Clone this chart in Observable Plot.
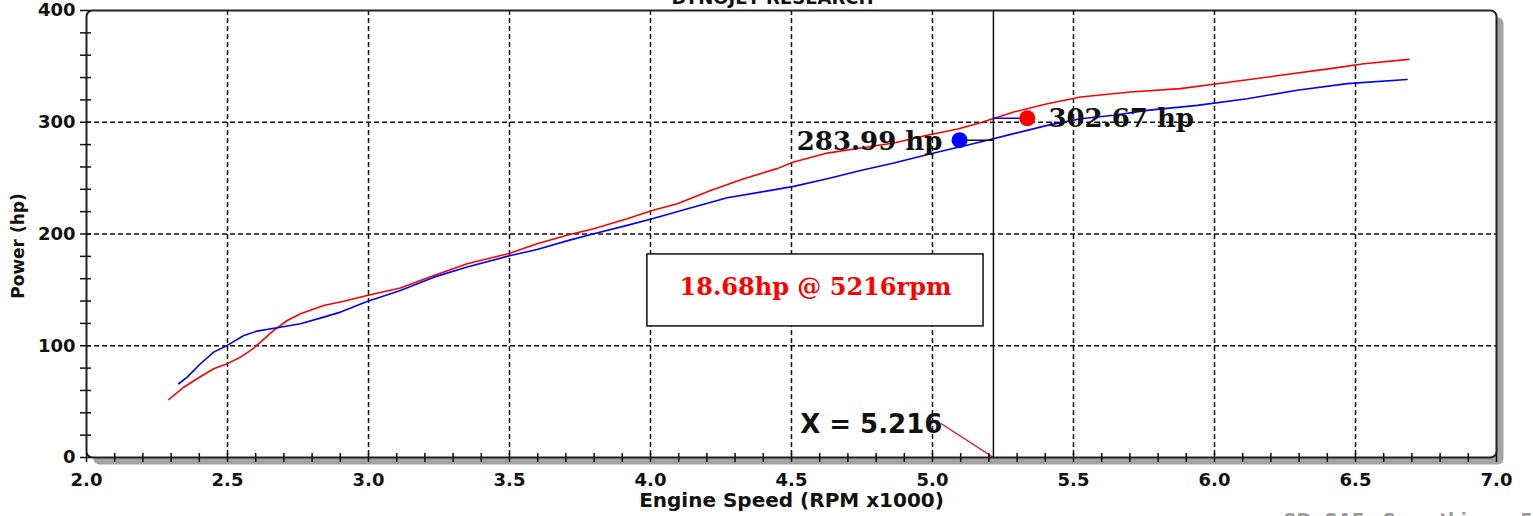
<!DOCTYPE html>
<html><head><meta charset="utf-8">
<script src="https://cdn.jsdelivr.net/npm/d3@7"></script>
<script src="https://cdn.jsdelivr.net/npm/@observablehq/plot@0.6"></script>
<style>html,body{margin:0;padding:0;background:#fff;overflow:hidden}</style>
</head><body><div id="chart"></div>
<script>
// Run 1 (red)
const rpmRed = [2.292,2.345,2.392,2.451,2.499,2.546,2.582,2.617,2.664,2.712,2.759,2.841,2.912,2.995,3.113,3.232,3.350,3.504,3.598,3.710,3.799,3.917,4.006,4.095,4.213,4.331,4.449,4.508,4.627,4.745,4.863,4.981,5.090,5.170,5.288,5.407,5.525,5.702,5.879,6.057,6.234,6.411,6.530,6.689];
const hpRed  = [51.9,62.9,70.5,79.4,83.9,89.8,95.8,103.2,113.7,122.6,128.6,136.1,139.9,145.0,151.6,162.9,173.4,182.9,191.3,199.4,204.7,213.7,221.1,227.1,239.0,249.5,258.5,264.4,272.4,276.9,281.4,288.3,294.0,299.5,309.1,316.6,322.6,327.1,330.1,336.0,342.0,348.0,352.4,356.3];
// Run 2 (blue)
const rpmBlue = [2.327,2.357,2.404,2.451,2.499,2.558,2.605,2.676,2.759,2.841,2.901,2.995,3.113,3.232,3.350,3.504,3.598,3.710,3.799,3.917,4.006,4.154,4.272,4.390,4.508,4.627,4.745,4.863,5.005,5.170,5.288,5.407,5.525,5.643,5.761,5.939,6.116,6.293,6.471,6.683];
const hpBlue  = [66.0,71.9,83.9,94.3,100.3,109.2,113.1,116.1,119.7,125.6,130.1,139.7,149.5,161.4,170.4,180.8,186.2,194.3,200.3,207.7,213.7,224.1,232.5,237.5,242.6,249.5,256.9,263.5,272.4,282.3,289.8,297.2,303.2,306.2,310.6,315.1,321.1,328.6,334.6,338.2];

// axis ticks
const xMajor = [2.0,2.5,3.0,3.5,4.0,4.5,5.0,5.5,6.0,6.5,7.0];
const xGrid  = [2.5,3.0,3.5,4.0,4.5,5.0,5.5,6.0,6.5];
const yMajor = [0,100,200,300,400];
const yGrid  = [100,200,300];
const xMinor = d3.range(20, 71).map(d => d / 10);
const yMinor = d3.range(0, 401, 20);

// cursor & markers
const cursorRpm = [5.216];
const markerNames = ["blue", "red"];
const markerRpm = [5.096, 5.336];
const markerHp  = [283.99, 303.6];
const markerLabels = ["283.99 hp", "302.67 hp"];
const diffLabel = ["18.68hp @ 5216rpm"];
const cursorLabel = ["X = 5.216"];
const titleText = ["DYNOJET RESEARCH"];
const footerText = ["SD: SAE   Smoothing = 5"];

const red = rpmRed.map((x, i) => ({x, y: hpRed[i]}));
const blue = rpmBlue.map((x, i) => ({x, y: hpBlue[i]}));
const markers = markerNames.map((c, i) => ({c, x: markerRpm[i], y: markerHp[i]}));

const ink = "#111";
const chart = Plot.plot({
  width: 1533, height: 516,
  marginLeft: 86, marginRight: 37, marginTop: 10, marginBottom: 59,
  x: {domain: [2, 7]},
  y: {domain: [0, 400]},
  style: {fontFamily: "DejaVu Sans", background: "white", overflow: "visible"},
  marks: [
    Plot.frame({fill: "#a3a3a3", stroke: null, rx: 6, dx: 7, dy: 7}),
    Plot.frame({fill: "white", stroke: null, rx: 6}),
    Plot.gridX(xGrid, {stroke: ink, strokeOpacity: 1, strokeDasharray: "5,3", strokeWidth: 1.5}),
    Plot.gridY(yGrid, {stroke: ink, strokeOpacity: 1, strokeDasharray: "5,3", strokeWidth: 1.5}),
    // diff box
    Plot.rect([0], {x1: 3.989, x2: 5.181, y1: 117.3, y2: 181.7, fill: "white", stroke: ink, strokeWidth: 1.5}),
    Plot.text(diffLabel, {x: 4.585, y: 152, text: d => d, fill: "#ff0000", fontFamily: "DejaVu Serif", fontWeight: "bold", fontSize: 24, lineAnchor: "middle", textAnchor: "middle"}),
    // curves
    Plot.line(red, {x: "x", y: "y", stroke: "#ff0000", strokeWidth: 1.6}),
    Plot.line(blue, {x: "x", y: "y", stroke: "#0000ff", strokeWidth: 1.6}),
    // cursor
    Plot.ruleX(cursorRpm, {x: d => d, y1: 0, y2: 400, stroke: ink, strokeWidth: 1.5}),
    Plot.link([0], {x1: 5.030, y1: 30.4, x2: cursorRpm[0], y2: 0, stroke: "#ff0000", strokeWidth: 1.2}),
    Plot.text(cursorLabel, {x: 5.035, y: 21.5, text: d => d, fill: ink, fontWeight: "bold", fontSize: 26, textAnchor: "end", lineAnchor: "bottom"}),
    // marker connectors
    Plot.ruleY([markerHp[0]], {y: d => d, x1: markerRpm[0], x2: cursorRpm[0], stroke: ink, strokeWidth: 1.5}),
    Plot.ruleY([markerHp[1]], {y: d => d, x1: cursorRpm[0], x2: markerRpm[1], stroke: "#0000ff", strokeWidth: 1.5}),
    Plot.dot(markers, {x: "x", y: "y", r: 8, fill: d => d.c === "red" ? "#ff0000" : "#0000ff", stroke: null}),
    Plot.text([markerLabels[0]], {x: 5.035, y: 274.8, text: d => d, fill: ink, fontFamily: "DejaVu Serif", fontWeight: "bold", fontSize: 26, textAnchor: "end", lineAnchor: "bottom"}),
    Plot.text([markerLabels[1]], {x: 5.411, y: 295.4, text: d => d, fill: ink, fontFamily: "DejaVu Serif", fontWeight: "bold", fontSize: 26, textAnchor: "start", lineAnchor: "bottom"}),
    // frame outline
    Plot.frame({stroke: "#222", strokeWidth: 2, rx: 6}),
    // minor ticks
    Plot.ruleX(xMinor, {x: d => d, y1: 0, y2: 0, insetTop: -4, insetBottom: -5, stroke: ink, strokeWidth: 1.5}),
    Plot.ruleY(yMinor, {y: d => d, x1: 2, x2: 2, insetLeft: -6, insetRight: -5, stroke: ink, strokeWidth: 1.5}),
    // axis labels
    Plot.axisX(xMajor, {tickSize: 0, tickPadding: 16, fontSize: 18, fontWeight: "bold", label: null, tickFormat: d => d.toFixed(1), fill: ink}),
    Plot.axisY(yMajor, {tickSize: 0, tickPadding: 11, fontSize: 18, fontWeight: "bold", label: null, fill: ink}),
    Plot.text(["Engine Speed (RPM x1000)"], {frameAnchor: "bottom", dy: 43, text: d => d, fontSize: 20, fontWeight: "bold", fill: ink, lineAnchor: "middle", textAnchor: "middle"}),
    Plot.text(["Power (hp)"], {frameAnchor: "left", dx: -68, dy: 12, rotate: -90, text: d => d, fontSize: 17, fontWeight: "bold", fill: ink, lineAnchor: "middle", textAnchor: "middle"}),
    Plot.text(titleText, {frameAnchor: "top", dx: -19, dy: -7, text: d => d, fontSize: 18, fontWeight: "bold", fill: ink, lineAnchor: "bottom", textAnchor: "middle"}),
    Plot.text(footerText, {frameAnchor: "bottom-right", dx: -213, dy: 68, text: d => d, fontSize: 18, fontWeight: "bold", fill: "#999", lineAnchor: "bottom", textAnchor: "start"})
  ]
});
document.getElementById("chart").appendChild(chart);
</script>
</body></html>
